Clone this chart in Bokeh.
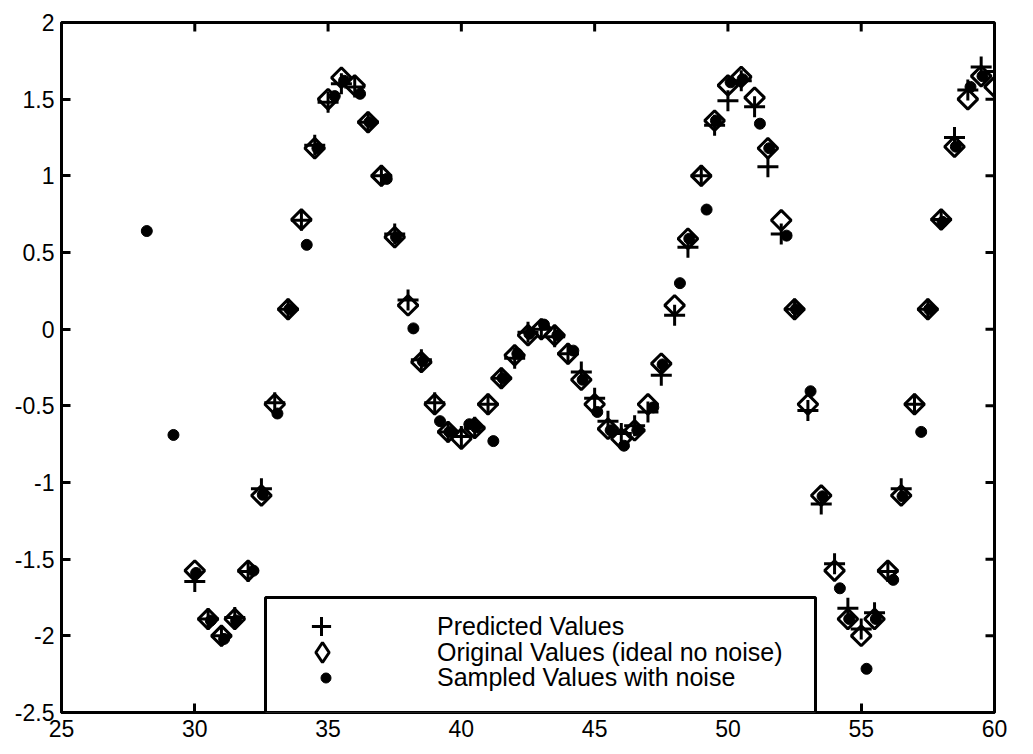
import numpy as np
from bokeh.plotting import figure
from bokeh.models import (LinearAxis, Legend, LegendItem, FixedTicker, Range1d,
                          NumeralTickFormatter, BasicTickFormatter, BoxAnnotation)
from bokeh.embed import file_html
from bokeh.resources import INLINE

# ---------------- data ----------------
x_model = [30.0, 30.5, 31.0, 31.5, 32.0, 32.5, 33.0, 33.5, 34.0, 34.5,
           35.0, 35.5, 36.0, 36.5, 37.0, 37.5, 38.0, 38.5, 39.0, 39.5,
           40.0, 40.5, 41.0, 41.5, 42.0, 42.5, 43.0, 43.5, 44.0, 44.5,
           45.0, 45.5, 46.0, 46.5, 47.0, 47.5, 48.0, 48.5, 49.0, 49.5,
           50.0, 50.5, 51.0, 51.5, 52.0, 52.5, 53.0, 53.5, 54.0, 54.5,
           55.0, 55.5, 56.0, 56.5, 57.0, 57.5, 58.0, 58.5, 59.0, 59.5,
           60.0]

original = [-1.575, -1.89, -2.00, -1.89, -1.575, -1.085, -0.49, 0.13, 0.715, 1.18,
            1.50, 1.64, 1.59, 1.35, 1.00, 0.60, 0.155, -0.215, -0.49, -0.67,
            -0.715, -0.645, -0.49, -0.32, -0.17, -0.04, 0.00, -0.04, -0.16, -0.33,
            -0.49, -0.65, -0.715, -0.66, -0.49, -0.225, 0.155, 0.59, 1.00, 1.36,
            1.59, 1.645, 1.51, 1.18, 0.71, 0.13, -0.49, -1.085, -1.575, -1.89,
            -2.00, -1.89, -1.575, -1.085, -0.49, 0.13, 0.715, 1.19, 1.50, 1.65,
            1.58]

predicted = [-1.645, -1.89, -2.00, -1.88, -1.58, -1.04, -0.48, 0.13, 0.71, 1.20,
             1.48, 1.60, 1.58, 1.35, 1.00, 0.62, 0.19, -0.20, -0.48, -0.67,
             -0.70, -0.64, -0.49, -0.32, -0.19, -0.02, 0.00, -0.05, -0.16, -0.28,
             -0.45, -0.60, -0.68, -0.63, -0.54, -0.30, 0.09, 0.535, 1.00, 1.33,
             1.49, 1.62, 1.45, 1.06, 0.62, 0.13, -0.53, -1.14, -1.53, -1.82,
             -1.955, -1.85, -1.58, -1.04, -0.49, 0.13, 0.715, 1.25, 1.56, 1.71,
             1.68]

x_sampled = [28.2, 29.2, 30.05, 30.6, 31.1, 31.55, 32.2, 32.55, 33.1, 33.55,
             34.2, 34.6, 35.25, 35.6, 36.2, 36.55, 37.2, 37.55, 38.2, 38.55,
             39.2, 39.55, 40.3, 40.55, 41.2, 41.55, 42.1, 42.55, 43.1, 43.6,
             44.2, 44.55, 45.1, 45.6, 46.1, 46.6, 47.2, 47.55, 48.2, 48.55,
             49.2, 49.55, 50.1, 50.55, 51.2, 51.55, 52.2, 52.55, 53.1, 53.55,
             54.2, 54.55, 55.2, 55.55, 56.2, 56.55, 57.25, 57.55, 58.05, 58.55,
             59.1, 59.55, 60.2]

sampled = [0.64, -0.69, -1.59, -1.90, -2.02, -1.90, -1.575, -1.08, -0.55, 0.13,
           0.55, 1.18, 1.52, 1.62, 1.535, 1.35, 0.98, 0.60, 0.005, -0.21,
           -0.60, -0.67, -0.62, -0.64, -0.73, -0.32, -0.16, -0.03, 0.03, -0.04,
           -0.14, -0.33, -0.54, -0.66, -0.76, -0.66, -0.51, -0.23, 0.30, 0.59,
           0.78, 1.36, 1.61, 1.63, 1.34, 1.18, 0.61, 0.13, -0.405, -1.09,
           -1.69, -1.89, -2.215, -1.89, -1.635, -1.09, -0.67, 0.13, 0.70, 1.19,
           1.58, 1.65, 1.51]

x_ticks = [25, 30, 35, 40, 45, 50, 55, 60]
y_ticks = [-2.5, -2, -1.5, -1, -0.5, 0, 0.5, 1, 1.5, 2]

legend_labels = ["Predicted Values",
                 "Original Values (ideal no noise)",
                 "Sampled Values with noise"]

FONT = "Liberation Sans"
FS = "23px"
LFS = "25px"

x_lo, x_hi = x_ticks[0], x_ticks[-1]
y_lo, y_hi = y_ticks[0], y_ticks[-1]

p = figure(frame_width=933, frame_height=690,
           x_range=Range1d(x_lo, x_hi), y_range=Range1d(y_lo, y_hi),
           output_backend="svg", toolbar_location=None,
           min_border_left=61, min_border_top=22, min_border_right=20,
           min_border_bottom=30,
           x_axis_location=None, y_axis_location=None)
p.background_fill_color = "white"
p.border_fill_color = "white"
p.outline_line_color = "black"
p.outline_line_width = 3
p.outline_line_alpha = 1.0
p.xgrid.visible = False
p.ygrid.visible = False


def style_axis(ax, ticks, fmt):
    ax.ticker = FixedTicker(ticks=ticks)
    ax.formatter = fmt
    ax.axis_line_width = 3
    ax.axis_line_color = "black"
    ax.major_tick_line_width = 3
    ax.major_tick_line_color = "black"
    ax.major_tick_in = 9
    ax.major_tick_out = 0
    ax.minor_tick_line_color = None
    ax.major_label_text_font = FONT
    ax.major_label_text_color = "black"
    ax.major_label_text_font_size = FS
    ax.major_label_standoff = 7


xb = LinearAxis()
style_axis(xb, x_ticks, BasicTickFormatter())
p.add_layout(xb, "below")
yl = LinearAxis()
style_axis(yl, y_ticks, NumeralTickFormatter(format="0.[0]"))
p.add_layout(yl, "left")

# inward ticks on the top and right edges of the box (from the tick lists)
p.ray(x=x_ticks, y=[y_hi] * len(x_ticks), length=9, length_units="screen",
      angle=-np.pi / 2, line_color="black", line_width=3)
p.ray(x=[x_hi] * len(y_ticks), y=y_ticks, length=9, length_units="screen",
      angle=np.pi, line_color="black", line_width=3)

# data marks
r_orig = p.scatter(x_model, original, marker="square", angle=np.pi / 4,
                   size=14, fill_color=None, line_color="black", line_width=3)
r_pred = p.scatter(x_model, predicted, marker="cross", size=21,
                   line_color="black", line_width=3)
r_samp = p.scatter(x_sampled, sampled, marker="circle", size=11,
                   fill_color="black", line_color="black", line_width=1)
# hidden twin of the original series, used only for its (taller) legend key
r_orig_key = p.scatter(x_model, original, marker="diamond", size=20,
                       fill_color=None, line_color="black", line_width=3,
                       visible=False)

# legend frame (screen units, relative to the plot frame)
box = BoxAnnotation(left=204, right=754, bottom=0, top=115,
                    left_units="screen", right_units="screen",
                    bottom_units="screen", top_units="screen",
                    fill_color="white", fill_alpha=1.0,
                    line_color="black", line_width=3, line_alpha=1.0)
p.add_layout(box)


def key(label, renderer, loc, gw, gh, standoff):
    return Legend(items=[LegendItem(label=label, renderers=[renderer])],
                  location=loc, margin=0, padding=0, spacing=0,
                  glyph_width=gw, glyph_height=gh, label_height=20,
                  label_standoff=standoff, label_width=10,
                  label_text_font=FONT, label_text_font_size=LFS,
                  label_text_color="black",
                  border_line_color=None, background_fill_alpha=0.0,
                  inactive_fill_alpha=0.0, click_policy="none")


p.add_layout(key(legend_labels[0], r_pred, (236, 62), 48, 48, 92))
p.add_layout(key(legend_labels[1], r_orig_key, (236, 35), 50, 50, 90))
p.add_layout(key(legend_labels[2], r_samp, (252, 20), 25, 25, 99))

open("out.html", "w").write(file_html(p, INLINE))
